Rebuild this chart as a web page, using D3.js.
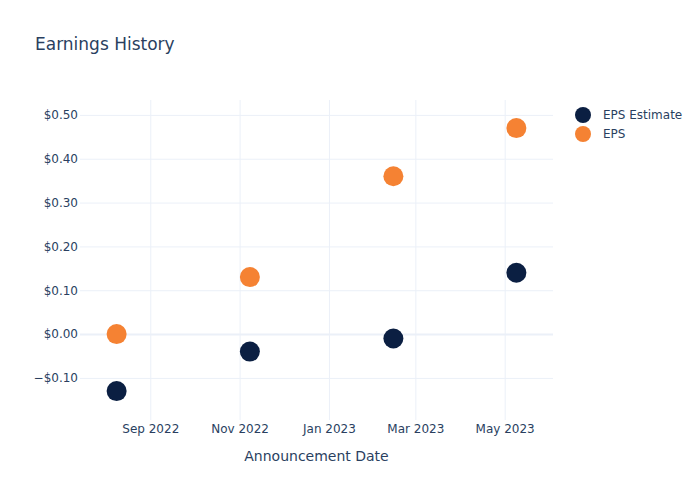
<!DOCTYPE html>
<html><head><meta charset="utf-8">
<script src="https://cdn.jsdelivr.net/npm/d3@7"></script>
<style>body{margin:0;background:#fff}svg{display:block}</style>
</head><body>
<script>
const dates = ["2022-08-09","2022-11-08","2023-02-14","2023-05-09"];
const epsEstimate = [-0.13,-0.04,-0.01,0.14];
const eps = [0.00,0.13,0.36,0.47];
const yTicks = [-0.1,0,0.1,0.2,0.3,0.4,0.5];
const xTickDates = ["2022-09-01","2022-11-01","2023-01-01","2023-03-01","2023-05-01"];
const seriesNames = ["EPS Estimate","EPS"];
const colors = ["#0b1f42","#f58233"];

const W=700,H=500,L=80,R=553,T=100,B=420;
const font='"DejaVu Sans", Verdana, sans-serif';
const txt="#2a3f5f", grid="#ebf0f8";
const parse=d3.utcParse("%Y-%m-%d");
const svg=d3.select("body").append("svg").attr("width",W).attr("height",H).style("font-family",font);

const x=d3.scaleUtc().domain([parse("2022-07-15"),parse("2023-06-03")]).range([L,R]);
const y=d3.scaleLinear().domain([-0.196,0.534]).range([B,T]);

const xt=xTickDates.map(parse);
const gx=svg.append("g").attr("transform",`translate(0,${B})`)
  .call(d3.axisBottom(x).tickValues(xt).tickFormat(d3.utcFormat("%b %Y")).tickSize(-(B-T)).tickPadding(4));
gx.select(".domain").remove();
gx.selectAll("line").attr("stroke",grid);
gx.selectAll("text").attr("fill",txt).style("font-size","12px").style("font-family",font);

const gy=svg.append("g").attr("transform",`translate(${L},0)`)
  .call(d3.axisLeft(y).tickValues(yTicks).tickFormat(d=>(d<0?"\u2212":"")+"$"+Math.abs(d).toFixed(2)).tickSize(-(R-L)).tickPadding(2));
gy.select(".domain").remove();
gy.selectAll("line").attr("stroke",grid).attr("stroke-width",d=>d===0?2:1);
gy.selectAll("text").attr("fill",txt).style("font-size","12px").style("font-family",font);

[epsEstimate,eps].forEach((vals,i)=>{
  svg.append("g").selectAll("circle").data(vals).join("circle")
    .attr("cx",(d,j)=>x(parse(dates[j]))).attr("cy",d=>y(d)).attr("r",10).attr("fill",colors[i]);
});

svg.append("text").attr("x",35).attr("y",50).attr("fill",txt).style("font-size","17px").text("Earnings History");
svg.append("text").attr("x",(L+R)/2).attr("y",461).attr("text-anchor","middle").attr("fill",txt).style("font-size","14px").text("Announcement Date");

const lg=svg.append("g");
seriesNames.forEach((n,i)=>{
  lg.append("circle").attr("cx",583).attr("cy",115+i*19).attr("r",8).attr("fill",colors[i]);
  lg.append("text").attr("x",603).attr("y",115+i*19).attr("dy","0.35em").attr("fill",txt).style("font-size","12px").text(n);
});
</script>
</body></html>
